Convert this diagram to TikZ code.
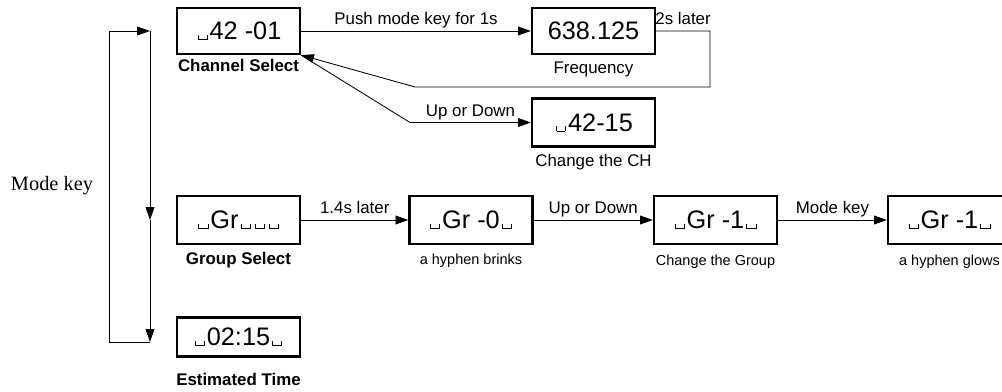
\documentclass[tikz,border=0pt]{standalone}
\usepackage{fontspec}
\setmainfont{Liberation Sans}
\newfontfamily\keyfont{Liberation Serif}
\usetikzlibrary{arrows.meta,positioning}
\newcommand\blank{\kern1.5pt\rule{0.5pt}{3.5pt}\rule{6pt}{0.5pt}\rule{0.5pt}{3.5pt}\kern1.5pt}

\begin{document}
\begin{tikzpicture}[x=0.025cm,y=-0.025cm,
  disp/.style={draw,line width=1.6pt,minimum width=3.075cm,minimum height=1.2cm,inner sep=0pt,font=\fontsize{18}{20}\selectfont},
  lbl/.style={inner sep=0pt,font=\fontsize{12}{14}\selectfont},
  lblb/.style={inner sep=0pt,font=\fontsize{12}{14}\selectfont\bfseries},
  lbls/.style={inner sep=0pt,font=\fontsize{10.3}{12}\selectfont},
  flow/.style={line width=0.6pt,-{Triangle[length=3.2mm,width=2.2mm]}},
  edgelbl/.style={above,inner sep=1.5pt,text depth=0.25em,font=\fontsize{12}{14}\selectfont}]
\useasboundingbox (0,0) rectangle (1002,392);

\node[disp,minimum height=1.15cm] (chan) at (238.5,31) {\blank 42 -01};
\node[disp,minimum height=1.15cm] (freq) at (593.5,31) {638.125};
\node[disp] (chg) at (593.5,122.5) {\blank 42-15};
\node[disp] (grp) at (238.5,220) {\blank Gr\blank\blank\blank};
\node[disp] (grz) at (471,220) {\blank Gr -0\blank};
\node[disp] (gro) at (715.5,220) {\blank Gr -1\blank};
\node[disp] (grg) at (949.5,220) {\blank Gr -1\blank};
\node[disp,minimum height=0.975cm] (tim) at (238.5,337) {\blank 02:15\blank};

\node[lblb,below=2.5pt of chan] (chanl) {Channel Select};
\node[lbl,below=4.3pt of freq] (freql) {Frequency};
\node[lbl,below=4.3pt of chg] (chgl) {Change the CH};
\node[lblb,below=5pt of grp] (grpl) {Group Select};
\node[lbls,below=6pt of grz] (grzl) {a hyphen brinks};
\node[lbls,below=7pt of gro] (grol) {Change the Group};
\node[lbls,below=6.5pt of grg] (grgl) {a hyphen glows};
\node[lblb,below=11pt of tim] (timl) {Estimated Time};

\node[font=\fontsize{14.5}{16}\keyfont] (mk) at (52,186) {Mode key};

\coordinate (r1) at (710,31);
\coordinate (r2) at (710,87);
\coordinate (r3) at (415,87);
\coordinate (u1) at (410,122.5);

\draw[flow] (chan) -- node[edgelbl]{Push mode key for 1s} (freq);
\draw[flow] (freq.east) -- node[edgelbl]{2s later} (r1) -- (r2) -- (r3) -- (chan.south east);
\draw[flow] (chan.south east) -- (u1) -- node[edgelbl]{Up or Down} (chg);

\draw[flow] (grp) -- node[edgelbl]{1.4s later} (grz);
\draw[flow] (grz) -- node[edgelbl]{Up or Down} (gro);
\draw[flow] (gro) -- node[edgelbl]{Mode key} (grg);

\coordinate (lt) at (150,31);
\coordinate (lg) at (150,220);
\coordinate (lb) at (150,342);
\coordinate (ob) at (109,342);
\coordinate (ot) at (109,31);
\draw[flow] (lt) -- (lg);
\draw[flow] (lg) -- (lb);
\draw[flow] (lb) -- (ob) -- (ot) -- (lt);
\end{tikzpicture}
\end{document}
